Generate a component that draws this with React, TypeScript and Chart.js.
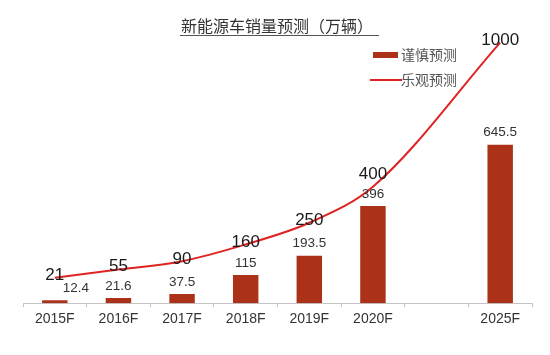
import React, { useEffect, useRef } from "react";
import { Chart, registerables } from "chart.js";

Chart.register(...registerables);

const categories = ["2015F", "2016F", "2017F", "2018F", "2019F", "2020F", "", "2025F"];
const cautious = [12.4, 21.6, 37.5, 115, 193.5, 396, null, 645.5];
const optimistic = [21, 55, 90, 160, 250, 400, null, 1000];
const titleText = "新能源车销量预测（万辆）";
const seriesNames = ["谨慎预测", "乐观预测"];

const BAR_COLOR = "#AB3218";
const LINE_COLOR = "#E02424";
const NUM_FONT = '"Liberation Sans", Arial, sans-serif';
const CJK_FONT = '"Noto Sans CJK SC", sans-serif';

const decorPlugin = {
  id: "decor",
  afterDatasetsDraw(chart: any) {
    const ctx = chart.ctx;
    ctx.save();
    ctx.textAlign = "center";
    ctx.textBaseline = "middle";
    // bar labels
    const barMeta = chart.getDatasetMeta(0);
    const barLabelY: number[] = [];
    ctx.font = `13.5px ${NUM_FONT}`;
    ctx.fillStyle = "#333";
    barMeta.data.forEach((el: any, i: number) => {
      const v = cautious[i];
      if (v == null) return;
      const dx = i === 0 ? 21 : 0;
      barLabelY[i] = el.y - 12;
      ctx.fillText(String(v), el.x + dx, el.y - 12);
    });
    // line labels (kept clear of the bar labels)
    const lineMeta = chart.getDatasetMeta(1);
    ctx.font = `17px ${NUM_FONT}`;
    ctx.fillStyle = "#1a1a1a";
    lineMeta.data.forEach((el: any, i: number) => {
      const v = optimistic[i];
      if (v == null) return;
      let y = el.y - 2;
      if (i > 0 && barLabelY[i] != null) y = Math.min(y, barLabelY[i] - 20);
      ctx.fillText(String(v), el.x, y);
    });
    ctx.restore();
  },
  afterDraw(chart: any) {
    const ctx = chart.ctx;
    ctx.save();
    // title
    ctx.font = `16px ${CJK_FONT}`;
    ctx.fillStyle = "#333";
    ctx.textAlign = "center";
    ctx.textBaseline = "middle";
    const cx = 277;
    ctx.fillText(titleText, cx, 26);
    const w = ctx.measureText(titleText).width;
    ctx.strokeStyle = "#555";
    ctx.lineWidth = 1;
    ctx.beginPath();
    ctx.moveTo(cx - w / 2 - 1, 35.5);
    ctx.lineTo(cx + w / 2 + 6, 35.5);
    ctx.stroke();
    // legend
    ctx.fillStyle = BAR_COLOR;
    ctx.fillRect(373, 52, 25, 6);
    ctx.strokeStyle = LINE_COLOR;
    ctx.lineWidth = 2;
    ctx.beginPath();
    ctx.moveTo(370, 80);
    ctx.lineTo(402, 80);
    ctx.stroke();
    ctx.font = `14px ${CJK_FONT}`;
    ctx.fillStyle = "#555";
    ctx.textAlign = "left";
    ctx.fillText(seriesNames[0], 401, 55);
    ctx.fillText(seriesNames[1], 401, 80);
    ctx.restore();
  },
};

export default function App() {
  const ref = useRef<HTMLCanvasElement>(null);
  useEffect(() => {
    document.body.style.margin = "0";
    const chart = new Chart(ref.current!, {
      type: "bar",
      data: {
        labels: categories,
        datasets: [
          {
            type: "bar",
            label: seriesNames[0],
            data: cautious as any,
            backgroundColor: BAR_COLOR,
            barPercentage: 0.4,
            categoryPercentage: 1,
            yAxisID: "y",
            order: 2,
          },
          {
            type: "line",
            label: seriesNames[1],
            data: optimistic as any,
            borderColor: LINE_COLOR,
            borderWidth: 2,
            pointRadius: 0,
            spanGaps: true,
            cubicInterpolationMode: "monotone",
            yAxisID: "y2",
            order: 1,
          },
        ],
      },
      options: {
        animation: false,
        responsive: false,
        layout: { padding: { left: 23, right: 18, top: 33, bottom: 23 } },
        plugins: { legend: { display: false }, title: { display: false }, tooltip: { enabled: false } },
        scales: {
          x: {
            offset: true,
            grid: { offset: true, drawOnChartArea: false, drawTicks: true, tickLength: 4, color: "#c4c4c4" },
            border: { color: "#c4c4c4" },
            ticks: { color: "#333", font: { family: NUM_FONT, size: 14 }, padding: 4, autoSkip: false, maxRotation: 0 },
          },
          y: { display: false, min: 0, max: 1100 },
          y2: { display: false, min: -85, max: 1040 },
        },
      },
      plugins: [decorPlugin],
    });
    return () => chart.destroy();
  }, []);
  return <canvas ref={ref} width={550} height={355} style={{ display: "block" }} />;
}
